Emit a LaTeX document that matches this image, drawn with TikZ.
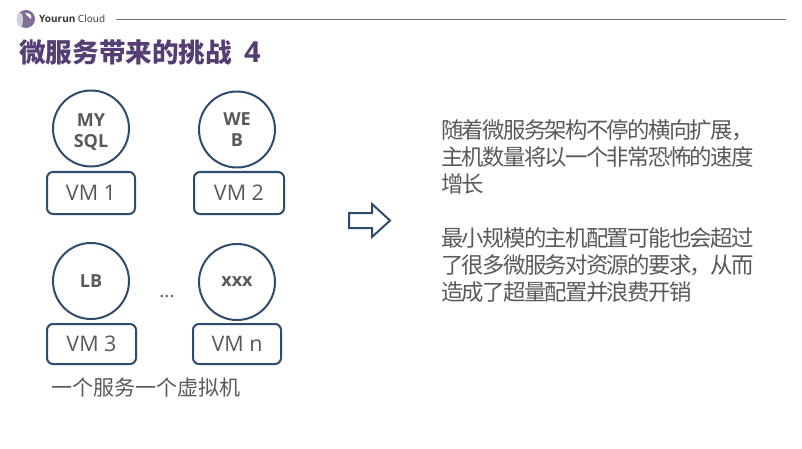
\documentclass[tikz,border=0pt]{standalone}
\usepackage{fontspec}
\setmainfont{Open Sans}
\newfontfamily\cjk{Noto Sans CJK SC}
\newfontfamily\cjktight[LetterSpace=-7.5]{Noto Sans CJK SC}
\definecolor{navy}{HTML}{2F4B6E}
\definecolor{txt}{HTML}{595959}
\definecolor{ttl}{HTML}{553E74}
\tikzset{
  svc/.style={circle,draw=navy,line width=2pt,minimum size=76pt,inner sep=0pt,align=center,text=txt,font=\fontsize{18}{21}\selectfont\bfseries},
  vm/.style={rectangle,rounded corners=6pt,draw=navy,line width=2pt,minimum height=42pt,inner sep=0pt,text=txt,font=\fontsize{21.5}{24}\selectfont},
  body/.style={anchor=west,inner sep=0pt,text=txt,font=\cjktight\fontsize{22.4}{27}\selectfont}
}
\begin{document}
\begin{tikzpicture}[x=1pt,y=-1pt]
\useasboundingbox (0,0) rectangle (802,449);
% header
\node[circle,fill=ttl!75,minimum size=18pt,inner sep=0pt] (logo) at (26,19) {};
\fill[ttl!25] (19,12) .. controls (24,12) and (24,24) .. (21,28) .. controls (16,25) and (15,16) .. (19,12);
\fill[white] (25,13) .. controls (31,13) and (32,16) .. (31,19) .. controls (28,16) and (26,15) .. (25,13);
\node[anchor=west,inner sep=0pt,text=black!80,font=\fontsize{10}{11}\selectfont] (brand) at (39,19) {\textbf{Yourun} Cloud};
\coordinate (ruleA) at (116,19);
\coordinate (ruleB) at (786,19);
\draw[black!55,line width=0.8pt] (ruleA) -- (ruleB);
\node[anchor=west,inner sep=0pt,text=ttl,font=\fontsize{26.6}{30}\selectfont] (title) at (19,52) {{\cjk\bfseries 微服务带来的挑战}\hspace{12pt}{\fontsize{29}{30}\selectfont\bfseries 4}};
% services
\node[svc] (s1) at (91,128.5) {\rule{0pt}{17pt}MY\\\smash{SQL}};
\node[svc] (s2) at (237,129.5) {WE\\B};
\node[svc] (s3) at (91,281) {LB};
\node[svc] (s4) at (237,282) {xxx};
\node[vm,minimum width=88pt,minimum height=42pt] (v1) at (91,193) {VM 1};
\node[vm,minimum width=90pt,minimum height=42pt] (v2) at (239,193) {VM 2};
\node[vm,minimum width=89pt,minimum height=40pt] (v3) at (91.5,344) {VM 3};
\node[vm,minimum width=88pt,minimum height=40pt] (v4) at (237,344) {VM n};
\node[inner sep=0pt,text=txt,font=\fontsize{19}{20}\selectfont] (dots) at (167,297) {...};
\node[anchor=west,inner sep=0pt,text=txt,font=\cjk\fontsize{21}{25}\selectfont] (cap) at (51,388) {一个服务一个虚拟机};
% arrow
\draw[navy,line width=2pt,line join=miter] (349,213) -- (372,213) -- (372,204) -- (390,220.5) -- (372,237) -- (372,228) -- (349,228) -- cycle;
% body text
\node[body] (t1) at (441,130) {随着微服务架构不停的横向扩展，};
\node[body] (t2) at (441,157) {主机数量将以一个非常恐怖的速度};
\node[body] (t3) at (441,184) {增长};
\node[body] (t4) at (441,238) {最小规模的主机配置可能也会超过};
\node[body] (t5) at (441,265) {了很多微服务对资源的要求，从而};
\node[body] (t6) at (441,292) {造成了超量配置并浪费开销};
\end{tikzpicture}
\end{document}
